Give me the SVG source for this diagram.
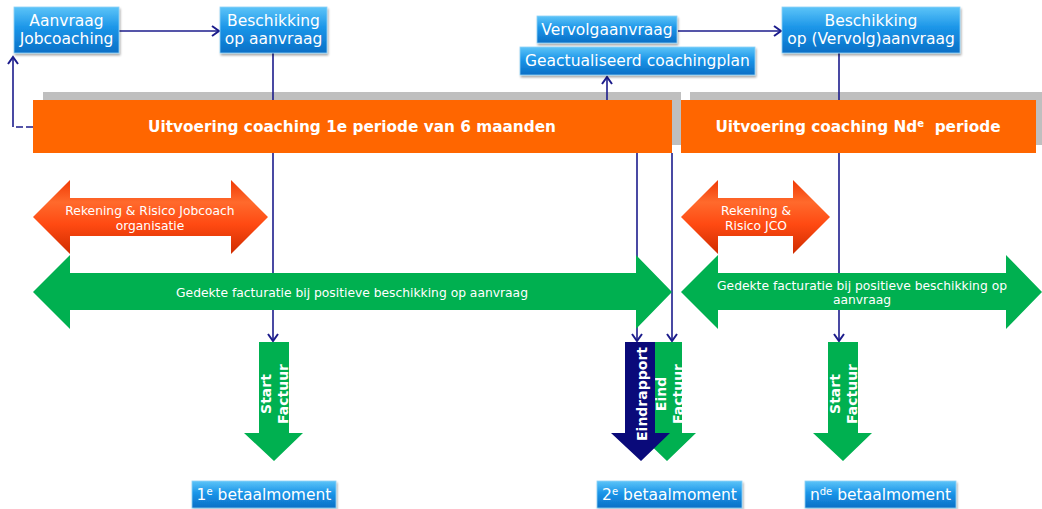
<svg xmlns="http://www.w3.org/2000/svg" width="1042" height="509" viewBox="0 0 1042 509">
<defs>
<linearGradient id="blueG" x1="0" y1="0" x2="0" y2="1">
<stop offset="0" stop-color="#5cc4f8"/>
<stop offset="0.45" stop-color="#1b95e8"/>
<stop offset="1" stop-color="#0a6fc6"/>
</linearGradient>
<linearGradient id="redG" x1="0" y1="0" x2="0" y2="1">
<stop offset="0" stop-color="#f03a05"/>
<stop offset="0.3" stop-color="#ff6a2c"/>
<stop offset="0.6" stop-color="#ff4a12"/>
<stop offset="1" stop-color="#cf2c00"/>
</linearGradient>
<filter id="sh" x="-10%" y="-20%" width="130%" height="150%">
<feDropShadow dx="1" dy="2" stdDeviation="1.2" flood-color="#000" flood-opacity="0.35"/>
</filter>
<marker id="arr" markerWidth="12" markerHeight="12" refX="10" refY="6" orient="auto" markerUnits="userSpaceOnUse">
<path d="M3,1 L10,6 L3,11" fill="none" stroke="#1c1c8c" stroke-width="2"/>
</marker>
</defs>
<style>
.box{fill:url(#blueG);stroke:#8fd2f8;stroke-width:0.8;filter:url(#sh)}
.bt{font-family:"DejaVu Sans",Verdana,sans-serif;font-size:15.5px;fill:#fff;text-anchor:middle}
.ob{fill:#ff6600}
.gb{fill:#bfbfbf}
.ot{font-family:"DejaVu Sans",Verdana,sans-serif;font-size:15.3px;font-weight:bold;fill:#fff;text-anchor:middle}
.green{fill:#00b050}
.red{fill:url(#redG)}
.navy{fill:#0a0a7a}
.at{font-family:"DejaVu Sans",Verdana,sans-serif;font-size:12.3px;fill:#fff;text-anchor:middle}
.vt{font-family:"DejaVu Sans",Verdana,sans-serif;font-size:14px;font-weight:bold;fill:#fff;text-anchor:middle}
.cn{fill:none;stroke:#1c1c8c;stroke-width:1.6}
</style>
<rect width="1042" height="509" fill="#fff"/>

<g id="shadows">
<rect class="gb" x="43" y="92" width="638" height="53"/>
<rect class="gb" x="690" y="92" width="352" height="53"/>
</g>

<g id="connectors">
<line class="cn" x1="119" y1="31" x2="219" y2="31" marker-end="url(#arr)"/>
<line class="cn" x1="678" y1="31" x2="781" y2="31" marker-end="url(#arr)"/>
<line class="cn" x1="273" y1="53" x2="273" y2="341" marker-end="url(#arr)"/>
<line class="cn" x1="839" y1="53" x2="839" y2="341" marker-end="url(#arr)"/>
<line class="cn" x1="607" y1="100" x2="607" y2="77" marker-end="url(#arr)"/>
<line class="cn" x1="637" y1="153" x2="637" y2="341" marker-end="url(#arr)"/>
<line class="cn" x1="672" y1="153" x2="672" y2="341" marker-end="url(#arr)"/>
<path class="cn" d="M33,127 H13" stroke-width="3" stroke-dasharray="7,3"/>
<path class="cn" d="M13,127 V57" marker-end="url(#arr)"/>
</g>

<g id="aanvraag">
<rect class="box" x="14" y="7" width="105" height="46"/>
<text class="bt" x="66.5" y="26">Aanvraag</text>
<text class="bt" x="66.5" y="44">Jobcoaching</text>
</g>
<g id="beschikking1">
<rect class="box" x="220" y="7" width="107" height="46"/>
<text class="bt" x="273.5" y="26">Beschikking</text>
<text class="bt" x="273.5" y="44">op aanvraag</text>
</g>
<g id="vervolgaanvraag">
<rect class="box" x="537" y="16" width="140" height="27"/>
<text class="bt" x="607" y="35">Vervolgaanvraag</text>
</g>
<g id="coachingplan">
<rect class="box" x="520" y="47" width="235" height="28"/>
<text class="bt" x="637.5" y="66">Geactualiseerd coachingplan</text>
</g>
<g id="beschikking2">
<rect class="box" x="782" y="7" width="178" height="46"/>
<text class="bt" x="871" y="26">Beschikking</text>
<text class="bt" x="871" y="44">op (Vervolg)aanvraag</text>
</g>

<g id="periode1">
<rect class="ob" x="33" y="100" width="639" height="53"/>
<text class="ot" x="352" y="132">Uitvoering coaching 1e periode van 6 maanden</text>
</g>
<g id="periodeN">
<rect class="ob" x="681" y="100" width="355" height="53"/>
<text class="ot" x="858" y="132">Uitvoering coaching Nd<tspan font-size="10" dy="-5">e</tspan><tspan dy="5" xml:space="preserve">  periode</tspan></text>
</g>

<g id="risico1">
<polygon class="red" points="33,217 70,180 70,198 231,198 231,180 268,217 231,254 231,236 70,236 70,254"/>
<text class="at" x="150" y="215">Rekening &amp; Risico Jobcoach</text>
<text class="at" x="150" y="230">organisatie</text>
</g>
<g id="risico2">
<polygon class="red" points="681,217 718,180 718,198 793,198 793,180 830,217 793,254 793,236 718,236 718,254"/>
<text class="at" x="756" y="215">Rekening &amp;</text>
<text class="at" x="756" y="230">Risico JCO</text>
</g>

<g id="facturatie1">
<polygon class="green" points="33,292 70,255 70,273 636,273 636,255 672,292 636,329 636,310 70,310 70,329"/>
<text class="at" x="352" y="297">Gedekte facturatie bij positieve beschikking op aanvraag</text>
</g>
<g id="facturatie2">
<polygon class="green" points="681,292 718,255 718,273 1006,273 1006,255 1042,292 1006,329 1006,310 718,310 718,329"/>
<text class="at" x="862" y="290">Gedekte facturatie bij positieve beschikking op</text>
<text class="at" x="862" y="304">aanvraag</text>
</g>

<g id="startfactuur1">
<polygon class="green" points="259,342 289,342 289,433 303,433 274,461 244,433 259,433"/>
<text class="vt" transform="translate(271,394) rotate(-90)">Start</text>
<text class="vt" transform="translate(288,394) rotate(-90)">Factuur</text>
</g>
<g id="eindfactuur">
<polygon class="green" points="652,342 682,342 682,433 696,433 667,461 638,433 652,433"/>
<text class="vt" transform="translate(666,394) rotate(-90)">Eind</text>
<text class="vt" transform="translate(683,394) rotate(-90)">Factuur</text>
</g>
<g id="eindrapport">
<polygon class="navy" points="625,342 655,342 655,433 670,433 641,461 611,433 625,433"/>
<text class="vt" transform="translate(647,394) rotate(-90)">Eindrapport</text>
</g>
<g id="startfactuurN">
<polygon class="green" points="828,342 858,342 858,433 872,433 843,461 813,433 828,433"/>
<text class="vt" transform="translate(840,394) rotate(-90)">Start</text>
<text class="vt" transform="translate(857,394) rotate(-90)">Factuur</text>
</g>

<g id="betaal1">
<rect class="box" x="192" y="481" width="144" height="27"/>
<text class="bt" x="264" y="500">1<tspan font-size="10" dy="-5">e</tspan><tspan dy="5"> betaalmoment</tspan></text>
</g>
<g id="betaal2">
<rect class="box" x="597" y="481" width="145" height="27"/>
<text class="bt" x="669.5" y="500">2<tspan font-size="10" dy="-5">e</tspan><tspan dy="5"> betaalmoment</tspan></text>
</g>
<g id="betaalN">
<rect class="box" x="805" y="481" width="151" height="27"/>
<text class="bt" x="880.5" y="500">n<tspan font-size="10" dy="-5">de</tspan><tspan dy="5"> betaalmoment</tspan></text>
</g>
</svg>
